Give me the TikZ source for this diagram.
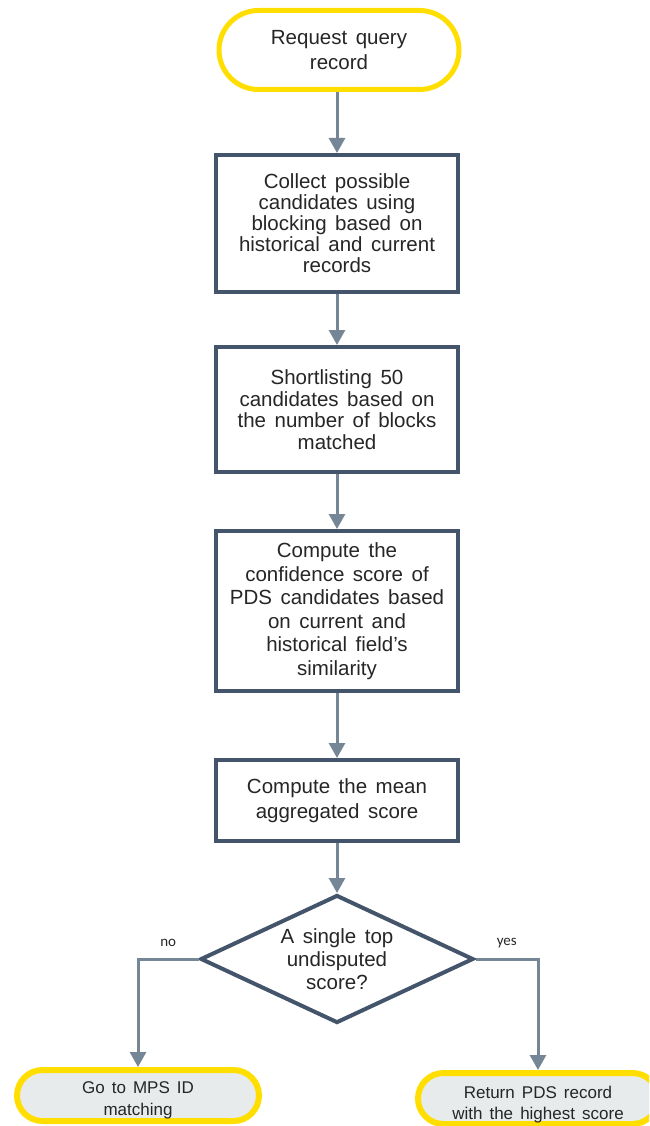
\documentclass[tikz,border=0pt]{standalone}
\usepackage{fontspec}
\setmainfont{Liberation Sans}[WordSpace=1.5]
\newfontfamily\lblfont{Carlito}
\usetikzlibrary{arrows.meta,shapes.geometric}

\definecolor{termyellow}{RGB}{255,222,0}
\definecolor{termfill}{RGB}{231,235,236}
\definecolor{boxedge}{RGB}{68,84,106}
\definecolor{flowline}{RGB}{117,134,150}
\definecolor{inktext}{RGB}{38,38,38}

\tikzset{
  every node/.style={text=inktext},
  flow/.style={draw=flowline, line width=3pt,
    -{Triangle[width=16pt,length=15pt]}},
  stepbox/.style={draw=boxedge, line width=4pt, fill=white,
    minimum width=242pt, inner sep=0pt, align=center},
  boxfont/.style={font=\fontsize{20.5}{#1}\selectfont},
  decision/.style={diamond, draw=boxedge, line width=4pt, fill=white,
    minimum width=273pt, minimum height=128pt, aspect=2.13,
    inner sep=0pt, align=center, font=\fontsize{20.5}{23}\selectfont},
  termbox/.style={draw=termyellow, rectangle, inner sep=0pt},
  termtext/.style={align=center, inner sep=0pt,
    font=\fontsize{17}{21.5}\selectfont},
  branchlbl/.style={font=\lblfont\fontsize{15}{17}\selectfont, inner sep=1pt}
}

\begin{document}
\begin{tikzpicture}[x=1pt,y=-1pt]
  \useasboundingbox (0,0) rectangle (649,1126);
  \clip (0,0) rectangle (649,1126);

  % start terminal
  \node[termbox, line width=5pt, fill=white, minimum width=240pt,
        minimum height=79pt, rounded corners=39.5pt, align=center,
        font=\fontsize{20.5}{25}\selectfont]
        (start) at (339,50) {Request query\\record};

  % process steps
  \node[stepbox, minimum height=137pt, boxfont=21] (collect) at (337,223.5)
    {Collect possible\\candidates using\\blocking based on\\historical and current\\records};
  \node[stepbox, minimum height=125pt, boxfont=21.5] (shortlist) at (337,409.5)
    {Shortlisting 50\\candidates based on\\the number of blocks\\matched};
  \node[stepbox, minimum height=160pt, boxfont=23.5] (confidence) at (337,611)
    {Compute the\\confidence score of\\PDS candidates based\\on current and\\historical field’s\\similarity};
  \node[stepbox, minimum height=81pt, boxfont=25] (meanscore) at (337,800.5)
    {Compute the mean\\aggregated score};

  % decision
  \node[decision] (single) at (337,959) {A single top\\undisputed\\score?};

  % end terminals
  \node[termbox, line width=6pt, fill=termfill, minimum width=242pt,
        minimum height=51pt, rounded corners=25.5pt] (mps) at (138,1095.5) {};
  \node[termtext] (mpstext) at ([yshift=-5pt]mps.center) {Go to MPS ID\\matching};

  \node[termbox, line width=6pt, fill=termfill, minimum width=240pt,
        minimum height=51pt, rounded corners=25.5pt] (pds) at (538,1098.5) {};
  \node[termtext] (pdstext) at ([yshift=-6pt]pds.center) {Return PDS record\\with the highest score};

  % connectors
  \draw[flow] (collect.north |- start.south) -- (collect.north);
  \draw[flow] (collect) -- (shortlist);
  \draw[flow] (shortlist) -- (confidence);
  \draw[flow] (confidence) -- (meanscore);
  \draw[flow] (meanscore) -- (single);
  \draw[flow] (single.west) -| node[branchlbl, pos=0.25, yshift=16pt] {no} (mps.north);
  \draw[flow] (single.east) -| node[branchlbl, pos=0.25, yshift=16pt] {yes} (pds.north);
\end{tikzpicture}
\end{document}
